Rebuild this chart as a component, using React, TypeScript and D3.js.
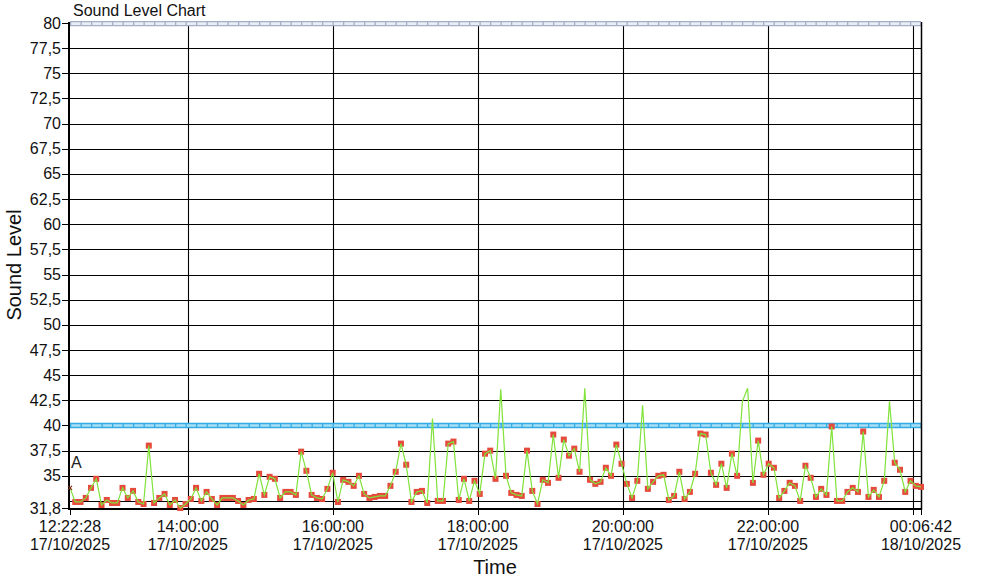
import React, { useEffect } from "react";
import * as d3 from "d3";

const START = "2025-10-17T12:22:28";
const END = "2025-10-18T00:06:42";

const soundLevels: number[] = [
  33.8, 32.4, 32.4, 32.8, 33.8, 34.7, 32.1, 32.6, 32.3, 32.3,
  33.8, 32.8, 33.5, 32.4, 32.2, 38.0, 32.3, 32.8, 33.2, 32.1,
  32.6, 31.8, 32.2, 32.7, 33.8, 32.5, 33.4, 32.7, 32.1, 32.8,
  32.8, 32.8, 32.5, 32.1, 32.6, 32.7, 35.2, 33.1, 34.9, 34.7,
  32.8, 33.4, 33.4, 33.1, 37.4, 35.5, 33.1, 32.8, 32.7, 33.7,
  35.3, 32.4, 34.6, 34.4, 34.0, 35.0, 33.2, 32.8, 32.9, 33.0,
  33.0, 34.0, 35.4, 38.2, 36.1, 32.4, 33.4, 33.5, 32.3, 40.7,
  32.5, 32.5, 38.2, 38.4, 32.6, 34.7, 32.5, 34.5, 33.2, 37.2,
  37.5, 34.7, 43.6, 35.0, 33.3, 33.1, 33.0, 37.5, 33.5, 32.2,
  34.6, 34.3, 39.1, 34.8, 38.6, 37.0, 37.7, 35.4, 43.7, 34.6,
  34.2, 34.4, 35.8, 35.0, 38.1, 36.2, 34.2, 32.8, 34.5, 42.0,
  33.7, 34.4, 35.0, 35.1, 32.6, 33.0, 35.4, 32.7, 33.4, 35.2,
  39.2, 39.1, 35.3, 34.1, 36.2, 33.8, 37.2, 35.0, 42.4, 43.7,
  34.3, 38.5, 35.1, 36.2, 35.8, 32.8, 33.5, 34.3, 34.0, 32.5,
  36.0, 34.8, 32.9, 33.7, 33.1, 39.9, 32.5, 32.5, 33.4, 33.8,
  33.4, 39.4, 32.9, 33.6, 32.9, 34.5, 42.4, 36.3, 35.6, 33.4,
  34.5, 34.0, 33.9,
];

const yTickValues: number[] = [80, 77.5, 75, 72.5, 70, 67.5, 65, 62.5, 60, 57.5, 55, 52.5, 50, 47.5, 45, 42.5, 40, 37.5, 35, 31.8];
const yGridValues: number[] = [80, 77.5, 75, 72.5, 70, 67.5, 65, 62.5, 60, 57.5, 55, 52.5, 50, 47.5, 45, 42.5, 40, 37.5, 35, 32.5];
const xGridTimes: string[] = [
  "2025-10-17T14:00:00", "2025-10-17T16:00:00", "2025-10-17T18:00:00",
  "2025-10-17T20:00:00", "2025-10-17T22:00:00", "2025-10-18T00:00:00",
];
const xLabelTimes: string[] = [
  START, "2025-10-17T14:00:00", "2025-10-17T16:00:00", "2025-10-17T18:00:00",
  "2025-10-17T20:00:00", "2025-10-17T22:00:00", END,
];
const LIMIT_LEVEL = 40;
const TOP_LEVEL = 80;
const Y_MIN = 31.8;

const FONT = "'Liberation Sans', Arial, sans-serif";

export default function App() {
  useEffect(() => {
    document.body.style.margin = "0";
  }, []);

  const W = 990, H = 588;
  const left = 70, right = 921, top = 23, bottom = 508;
  const parse = d3.timeParse("%Y-%m-%dT%H:%M:%S");
  const t0 = parse(START)!, t1 = parse(END)!;
  const x = d3.scaleTime().domain([t0, t1]).range([left, right]);
  const y = d3.scaleLinear().domain([Y_MIN, TOP_LEVEL]).range([bottom, top]);
  const n = soundLevels.length;
  const times = soundLevels.map((_, i) => new Date(t0.getTime() + ((t1.getTime() - t0.getTime()) * i) / (n - 1)));
  const pts = soundLevels.map((v, i) => ({ t: times[i], v }));
  const line = d3.line<{ t: Date; v: number }>().x((d) => x(d.t)).y((d) => y(d.v));
  const fmtT = d3.timeFormat("%H:%M:%S");
  const fmtD = d3.timeFormat("%d/%m/%Y");
  const fmtY = (v: number) => String(v).replace(".", ",");

  const band = (yc: number, color: string, fill: string, key: string) => (
    <g key={key}>
      <rect x={left} y={yc - 2.2} width={right - left} height={4.4} fill={fill} />
      <line x1={left} x2={right} y1={yc - 2} y2={yc - 2} stroke={color} strokeWidth={1.3} />
      <line x1={left} x2={right} y1={yc + 2} y2={yc + 2} stroke={color} strokeWidth={1.3} />
      <line x1={left} x2={right} y1={yc} y2={yc} stroke={color} strokeWidth={4.4} strokeDasharray="1.3 9.2" />
    </g>
  );

  return (
    <svg width={W} height={H} style={{ display: "block", background: "#fff" }} fontFamily={FONT}>
      <rect x={0} y={0} width={W} height={H} fill="#fff" />
      <text x={73} y={16} fontSize={16} fill="#111">Sound Level Chart</text>

      {yGridValues.map((v) => (
        <line key={"gy" + v} x1={left} x2={right} y1={Math.round(y(v)) + 0.5} y2={Math.round(y(v)) + 0.5} stroke="#000" strokeWidth={1.1} />
      ))}
      {xGridTimes.map((s) => {
        const xx = Math.round(x(parse(s)!)) + 0.5;
        return <line key={"gx" + s} x1={xx} x2={xx} y1={top} y2={bottom} stroke="#000" strokeWidth={1.1} />;
      })}

      {band(y(TOP_LEVEL) + 0.7, "#a3b0c8", "#e9edf4", "top")}
      {band(y(LIMIT_LEVEL), "#33ace6", "#a9def5", "limit")}

      <line x1={right + 0.5} x2={right + 0.5} y1={top - 1} y2={bottom + 2} stroke="#000" strokeWidth={1.5} />
      <line x1={69} x2={69} y1={top - 1} y2={bottom + 2} stroke="#000" strokeWidth={2} />
      <line x1={68} x2={right + 1} y1={bottom + 1} y2={bottom + 1} stroke="#000" strokeWidth={2} />

      {yTickValues.map((v) => {
        const yy = y(v);
        return (
          <g key={"ty" + v}>
            <line x1={62} x2={68} y1={Math.round(yy) + 0.5} y2={Math.round(yy) + 0.5} stroke="#000" strokeWidth={1} />
            <text x={61} y={yy + 5.5} fontSize={16} textAnchor="end" fill="#111">{fmtY(v)}</text>
          </g>
        );
      })}

      {[...xLabelTimes, "2025-10-18T00:00:00"].map((s) => {
        const xx = Math.round(x(parse(s)!)) + 0.5;
        return <line key={"tx" + s} x1={xx} x2={xx} y1={bottom + 2} y2={bottom + 7} stroke="#000" strokeWidth={1} />;
      })}
      {xLabelTimes.map((s) => {
        const d = parse(s)!;
        const xx = x(d);
        return (
          <g key={"lx" + s}>
            <text x={xx} y={532} fontSize={16} textAnchor="middle" fill="#111">{fmtT(d)}</text>
            <text x={xx} y={550} fontSize={16} textAnchor="middle" fill="#111">{fmtD(d)}</text>
          </g>
        );
      })}

      <text x={495} y={574} fontSize={20} textAnchor="middle" fill="#111">Time</text>
      <text transform={`translate(21, 265) rotate(-90)`} fontSize={20} textAnchor="middle" fill="#111">Sound Level</text>

      <text x={71} y={468} fontSize={16} fill="#222">A</text>

      {pts.slice(1).filter((d) => d.v <= LIMIT_LEVEL).map((d, i) => (
        <rect key={"m" + i} x={x(d.t) - 3} y={y(d.v) - 3} width={6} height={6} fill="#e64a3c" />
      ))}
      <path d={line(pts) || ""} fill="none" stroke="#80e23a" strokeWidth={1.2} />
      <path
        d={`M${x(pts[0].t) - 2},${y(pts[0].v) - 2} L${x(pts[0].t) + 2},${y(pts[0].v) + 2} M${x(pts[0].t) - 2},${y(pts[0].v) + 2} L${x(pts[0].t) + 2},${y(pts[0].v) - 2}`}
        stroke="#7a2a1e"
        strokeWidth={1.2}
      />
    </svg>
  );
}
